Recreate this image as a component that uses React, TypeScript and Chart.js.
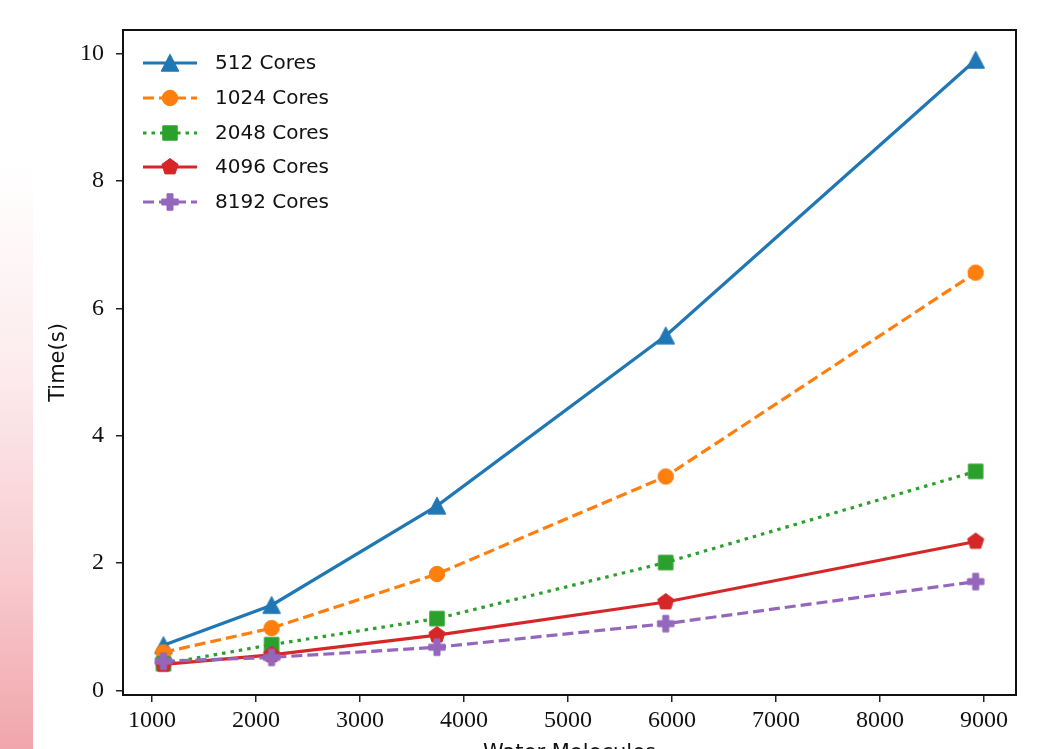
import React, { useEffect, useRef } from "react";
import { Chart, registerables } from "chart.js";

Chart.register(...registerables);

// ---- data ----
const waterMolecules = [1110, 2150, 3740, 5940, 8920];
const cores512 = [0.71, 1.34, 2.9, 5.57, 9.9];
const cores1024 = [0.6, 0.98, 1.83, 3.36, 6.56];
const cores2048 = [0.42, 0.72, 1.13, 2.01, 3.44];
const cores4096 = [0.41, 0.56, 0.87, 1.39, 2.34];
const cores8192 = [0.46, 0.52, 0.68, 1.05, 1.71];
const seriesLabels = ["512 Cores", "1024 Cores", "2048 Cores", "4096 Cores", "8192 Cores"];
const xTickValues = [1000, 2000, 3000, 4000, 5000, 6000, 7000, 8000, 9000];
const yTickValues = [0, 2, 4, 6, 8, 10];
const xTitle = "Water Molecules";
const yTitle = "Time(s)";

const colors = ["#1f77b4", "#ff7f0e", "#2ca02c", "#d62728", "#9467bd"];
const shapes = ["triangle", "circle", "square", "pentagon", "plus"];
const dashes: number[][] = [[], [11, 5], [3.5, 5], [], [11, 5]];

function makeMarker(shape: string, color: string): HTMLCanvasElement {
  const c = document.createElement("canvas");
  c.width = 22;
  c.height = 22;
  const ctx = c.getContext("2d")!;
  ctx.fillStyle = color;
  ctx.strokeStyle = color;
  ctx.lineWidth = 1;
  ctx.translate(11, 11);
  ctx.beginPath();
  if (shape === "triangle") {
    ctx.moveTo(0, -8.8);
    ctx.lineTo(-8.8, 8.2);
    ctx.lineTo(8.8, 8.2);
    ctx.closePath();
  } else if (shape === "circle") {
    ctx.arc(0, 0, 7.7, 0, Math.PI * 2);
  } else if (shape === "square") {
    ctx.rect(-7.2, -7.2, 14.4, 14.4);
  } else if (shape === "pentagon") {
    const r = 8.5;
    for (let i = 0; i < 5; i++) {
      const a = -Math.PI / 2 + (i * 2 * Math.PI) / 5;
      const px = r * Math.cos(a);
      const py = r * Math.sin(a);
      if (i === 0) ctx.moveTo(px, py);
      else ctx.lineTo(px, py);
    }
    ctx.closePath();
  } else {
    const a = 8.2, b = 3;
    ctx.moveTo(-b, -a);
    ctx.lineTo(b, -a);
    ctx.lineTo(b, -b);
    ctx.lineTo(a, -b);
    ctx.lineTo(a, b);
    ctx.lineTo(b, b);
    ctx.lineTo(b, a);
    ctx.lineTo(-b, a);
    ctx.lineTo(-b, b);
    ctx.lineTo(-a, b);
    ctx.lineTo(-a, -b);
    ctx.lineTo(-b, -b);
    ctx.closePath();
  }
  ctx.fill();
  ctx.stroke();
  return c;
}

const frameAndLegend = {
  id: "frameAndLegend",
  afterDraw(chart: any) {
    const { ctx, chartArea } = chart;
    ctx.save();
    ctx.strokeStyle = "#111";
    ctx.lineWidth = 2;
    ctx.strokeRect(chartArea.left, chartArea.top, chartArea.right - chartArea.left, chartArea.bottom - chartArea.top);
    // legend
    const x0 = 143, x1 = 197, tx = 215;
    const rowY = [63, 98, 133, 167, 202];
    chart.data.datasets.forEach((ds: any, i: number) => {
      const y = rowY[i];
      ctx.save();
      ctx.strokeStyle = ds.borderColor;
      ctx.lineWidth = ds.borderWidth;
      ctx.setLineDash(ds.borderDash || []);
      ctx.beginPath();
      ctx.moveTo(x0, y);
      ctx.lineTo(x1, y);
      ctx.stroke();
      ctx.restore();
      const img = ds.pointStyle as HTMLCanvasElement;
      ctx.drawImage(img, (x0 + x1) / 2 - img.width / 2, y - img.height / 2);
      ctx.fillStyle = "#111";
      ctx.font = "20px 'DejaVu Sans'";
      ctx.textBaseline = "middle";
      ctx.textAlign = "left";
      ctx.fillText(ds.label, tx, y + 1);
    });
    ctx.restore();
  },
};

export default function App() {
  const ref = useRef<HTMLCanvasElement | null>(null);
  useEffect(() => {
    if (!ref.current) return;
    const series = [cores512, cores1024, cores2048, cores4096, cores8192];
    const datasets = series.map((vals, i) => ({
      label: seriesLabels[i],
      data: waterMolecules.map((x, j) => ({ x, y: vals[j] })),
      borderColor: colors[i],
      backgroundColor: colors[i],
      borderWidth: 3.2,
      borderDash: dashes[i],
      pointStyle: makeMarker(shapes[i], colors[i]),
      pointRadius: 8,
      tension: 0,
      order: 5 - i,
    }));
    const tickFont = { family: "'Liberation Serif', serif", size: 24 };
    const chart = new Chart(ref.current, {
      type: "line",
      data: { datasets },
      plugins: [frameAndLegend],
      options: {
        animation: false,
        responsive: false,
        layout: { padding: { left: 0, top: 30, right: 28, bottom: 0 } },
        plugins: { legend: { display: false }, tooltip: { enabled: false } },
        scales: {
          x: {
            type: "linear",
            min: 721,
            max: 9308,
            afterBuildTicks: (s: any) => {
              s.ticks = xTickValues.map((v) => ({ value: v }));
            },
            afterFit: (s: any) => {
              s.height = 85;
            },
            border: { display: false },
            grid: { drawOnChartArea: false, drawTicks: true, tickLength: 7, color: "#222", lineWidth: 1.5 },
            ticks: { font: tickFont, color: "#111", padding: 4, maxRotation: 0, autoSkip: false, callback: (v: any) => String(v) },
            title: { display: true, text: xTitle, font: { family: "'DejaVu Sans'", size: 21 }, color: "#111", padding: { top: 0, bottom: 14 } },
          },
          y: {
            type: "linear",
            min: -0.07,
            max: 10.37,
            afterBuildTicks: (s: any) => {
              s.ticks = yTickValues.map((v) => ({ value: v }));
            },
            afterFit: (s: any) => {
              s.width = 123;
            },
            border: { display: false },
            grid: { drawOnChartArea: false, drawTicks: true, tickLength: 7, color: "#222", lineWidth: 1.5 },
            ticks: { font: tickFont, color: "#111", padding: 12, autoSkip: false, callback: (v: any) => String(v) },
            title: { display: true, text: yTitle, font: { family: "'DejaVu Sans'", size: 21 }, color: "#111", padding: { top: 46, bottom: 0 } },
          },
        },
      },
    } as any);
    return () => chart.destroy();
  }, []);
  return (
    <div style={{ position: "fixed", left: 0, top: 0, width: 1044, height: 749, overflow: "hidden", background: "#fff" }}>
      <div
        style={{
          position: "absolute",
          left: 0,
          top: 0,
          width: 33,
          height: 749,
          background: "linear-gradient(to bottom, #ffffff 0%, #ffffff 22%, #fcebed 50%, #f8cdd1 75%, #f0a6ac 100%)",
        }}
      />
      <canvas ref={ref} width={1044} height={780} style={{ position: "absolute", left: 0, top: 0, width: 1044, height: 780 }} />
    </div>
  );
}
